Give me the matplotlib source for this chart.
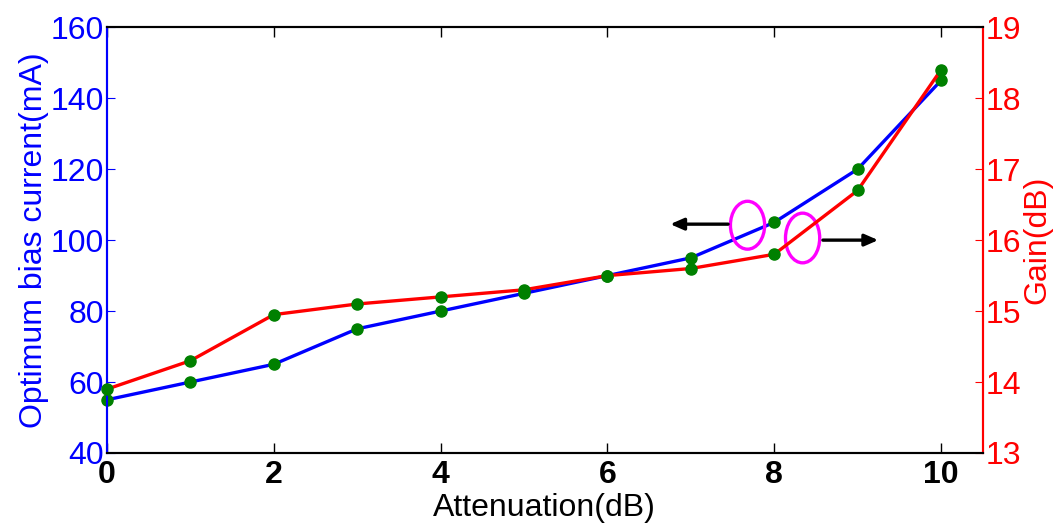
import matplotlib
matplotlib.use("Agg")
import matplotlib.pyplot as plt
from matplotlib.patches import Ellipse

plt.rcParams['font.family'] = ['Liberation Sans', 'DejaVu Sans']

attenuation = [0, 1, 2, 3, 4, 5, 6, 7, 8, 9, 10]
bias_current = [55, 60, 65, 75, 80, 85, 90, 95, 105, 120, 145]
gain = [13.9, 14.3, 14.95, 15.1, 15.2, 15.3, 15.5, 15.6, 15.8, 16.7, 18.4]

x_ticks = [0, 2, 4, 6, 8, 10]
left_ticks = [40, 60, 80, 100, 120, 140, 160]
right_ticks = [13, 14, 15, 16, 17, 18, 19]

fig = plt.figure(figsize=(10.59, 5.24), dpi=100)
ax = fig.add_axes([0.101, 0.1355, 0.827, 0.8125])
ax2 = ax.twinx()

ax.plot(attenuation, bias_current, color='blue', lw=2.4, zorder=3)
ax2.plot(attenuation, gain, color='red', lw=2.4, zorder=3)
ax.plot(attenuation, bias_current, 'o', color='green', ms=8, zorder=4, clip_on=False)
ax2.plot(attenuation, gain, 'o', color='green', ms=8, zorder=4, clip_on=False)

ax.set_xlim(0, 10.5)
ax.set_ylim(40, 160)
ax2.set_ylim(13, 19)
ax.set_xticks(x_ticks)
ax.set_yticks(left_ticks)
ax2.set_yticks(right_ticks)

ax.tick_params(axis='x', direction='in', top=True, length=7, width=1, labelsize=23, pad=5)
for lbl in ax.get_xticklabels():
    lbl.set_fontweight('bold')
ax.tick_params(axis='y', direction='in', colors='blue', length=6, labelsize=23, pad=2)
ax2.tick_params(axis='y', direction='in', colors='red', length=6, labelsize=23, pad=2)

ax.set_xlabel('Attenuation(dB)', fontsize=23, labelpad=2)
ax.set_ylabel('Optimum bias current(mA)', fontsize=23, color='blue', labelpad=1)
ax2.set_ylabel('Gain(dB)', fontsize=23, color='red', labelpad=1)

for a in (ax, ax2):
    a.spines['left'].set_color('blue')
    a.spines['right'].set_color('red')
    a.spines['top'].set_color('black')
    a.spines['bottom'].set_color('black')
    for s in a.spines.values():
        s.set_linewidth(1.5)

# Series indicators: ellipse around each curve with an arrow toward its axis
ax.add_patch(Ellipse((7.68, 104.2), 0.41, 13.5, fill=False, ec='magenta', lw=2.4, zorder=5))
ax.add_patch(Ellipse((8.34, 100.6), 0.41, 14.0, fill=False, ec='magenta', lw=2.4, zorder=5))
ax.annotate('', xy=(6.72, 104.5), xytext=(7.48, 104.5),
            arrowprops=dict(arrowstyle='-|>,head_length=0.8,head_width=0.35', color='black', lw=2.4), zorder=5)
ax.annotate('', xy=(9.28, 100.0), xytext=(8.55, 100.0),
            arrowprops=dict(arrowstyle='-|>,head_length=0.8,head_width=0.35', color='black', lw=2.4), zorder=5)

fig.savefig('out.png', dpi=100)
